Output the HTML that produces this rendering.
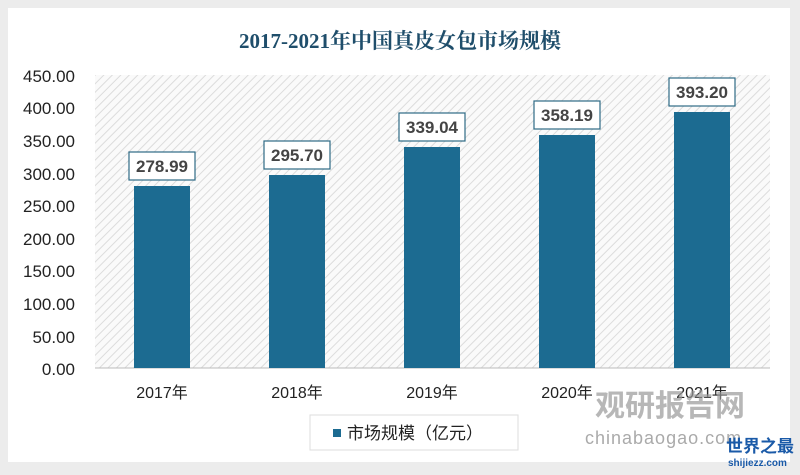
<!DOCTYPE html>
<html><head><meta charset="utf-8"><style>
body{margin:0;background:#ececec;width:800px;height:470px;overflow:hidden;font-family:"Liberation Sans","Noto Sans CJK SC",sans-serif}
</style></head><body>
<svg width="800" height="470" xmlns="http://www.w3.org/2000/svg">
<defs>
<pattern id="h" width="6" height="6" patternUnits="userSpaceOnUse" patternTransform="rotate(45)">
<rect width="6" height="6" fill="#fafafa"/><line x1="0" y1="0" x2="0" y2="6" stroke="#dcdcdc" stroke-width="2"/>
</pattern>
</defs>
<rect x="8" y="8" width="782" height="454" fill="#fff"/>
<text x="400" y="48" text-anchor="middle" font-family="Liberation Serif,'Noto Serif CJK SC',serif" font-weight="bold" font-size="21" fill="#1f4e6b">2017-2021年中国真皮女包市场规模</text>
<rect x="95" y="75" width="675" height="293" fill="url(#h)"/>
<line x1="95" y1="368" x2="770" y2="368" stroke="#bbb"/>
<g font-size="17" fill="#222" text-anchor="end">
<text x="75" y="82">450.00</text><text x="75" y="114">400.00</text><text x="75" y="147">350.00</text><text x="75" y="180">300.00</text><text x="75" y="212">250.00</text><text x="75" y="245">200.00</text><text x="75" y="277">150.00</text><text x="75" y="310">100.00</text><text x="75" y="343">50.00</text><text x="75" y="375">0.00</text>
</g>
<g fill="#1c6b91">
<rect x="134" y="186" width="56" height="182"/>
<rect x="269" y="175" width="56" height="193"/>
<rect x="404" y="147" width="56" height="221"/>
<rect x="539" y="135" width="56" height="233"/>
<rect x="674" y="112" width="56" height="256"/>
</g>
<g fill="#fff" stroke="#2e6a85" stroke-width="1.2">
<rect x="129" y="152" width="66" height="28"/>
<rect x="264" y="141" width="66" height="28"/>
<rect x="399" y="113" width="66" height="28"/>
<rect x="534" y="101" width="66" height="28"/>
<rect x="669" y="78" width="66" height="28"/>
</g>
<g font-size="17" font-weight="bold" fill="#444" text-anchor="middle">
<text x="162" y="172">278.99</text><text x="297" y="161">295.70</text><text x="432" y="133">339.04</text><text x="567" y="121">358.19</text><text x="702" y="98">393.20</text>
</g>
<g font-size="16" fill="#222" text-anchor="middle">
<text x="162" y="398">2017年</text><text x="297" y="398">2018年</text><text x="432" y="398">2019年</text><text x="567" y="398">2020年</text><text x="702" y="398">2021年</text>
</g>
<rect x="310" y="415" width="208" height="35" fill="#fff" stroke="#ddd"/>
<rect x="333" y="429" width="8" height="8" fill="#1c6b91"/>
<text x="347" y="439" font-size="17" fill="#222">市场规模（亿元）</text>
<text x="595" y="416" font-size="30" font-weight="bold" fill="#999" opacity="0.7">观研报告网</text>
<text x="585" y="444" font-size="18" fill="#aaa" letter-spacing="1">chinabaogao.com</text>
<text x="726" y="452" font-size="17" font-weight="bold" fill="#1a5aa8">世界之最</text>
<text x="728" y="466" font-size="10" font-weight="bold" fill="#1a5aa8">shijiezz.com</text>
</svg>
</body></html>
